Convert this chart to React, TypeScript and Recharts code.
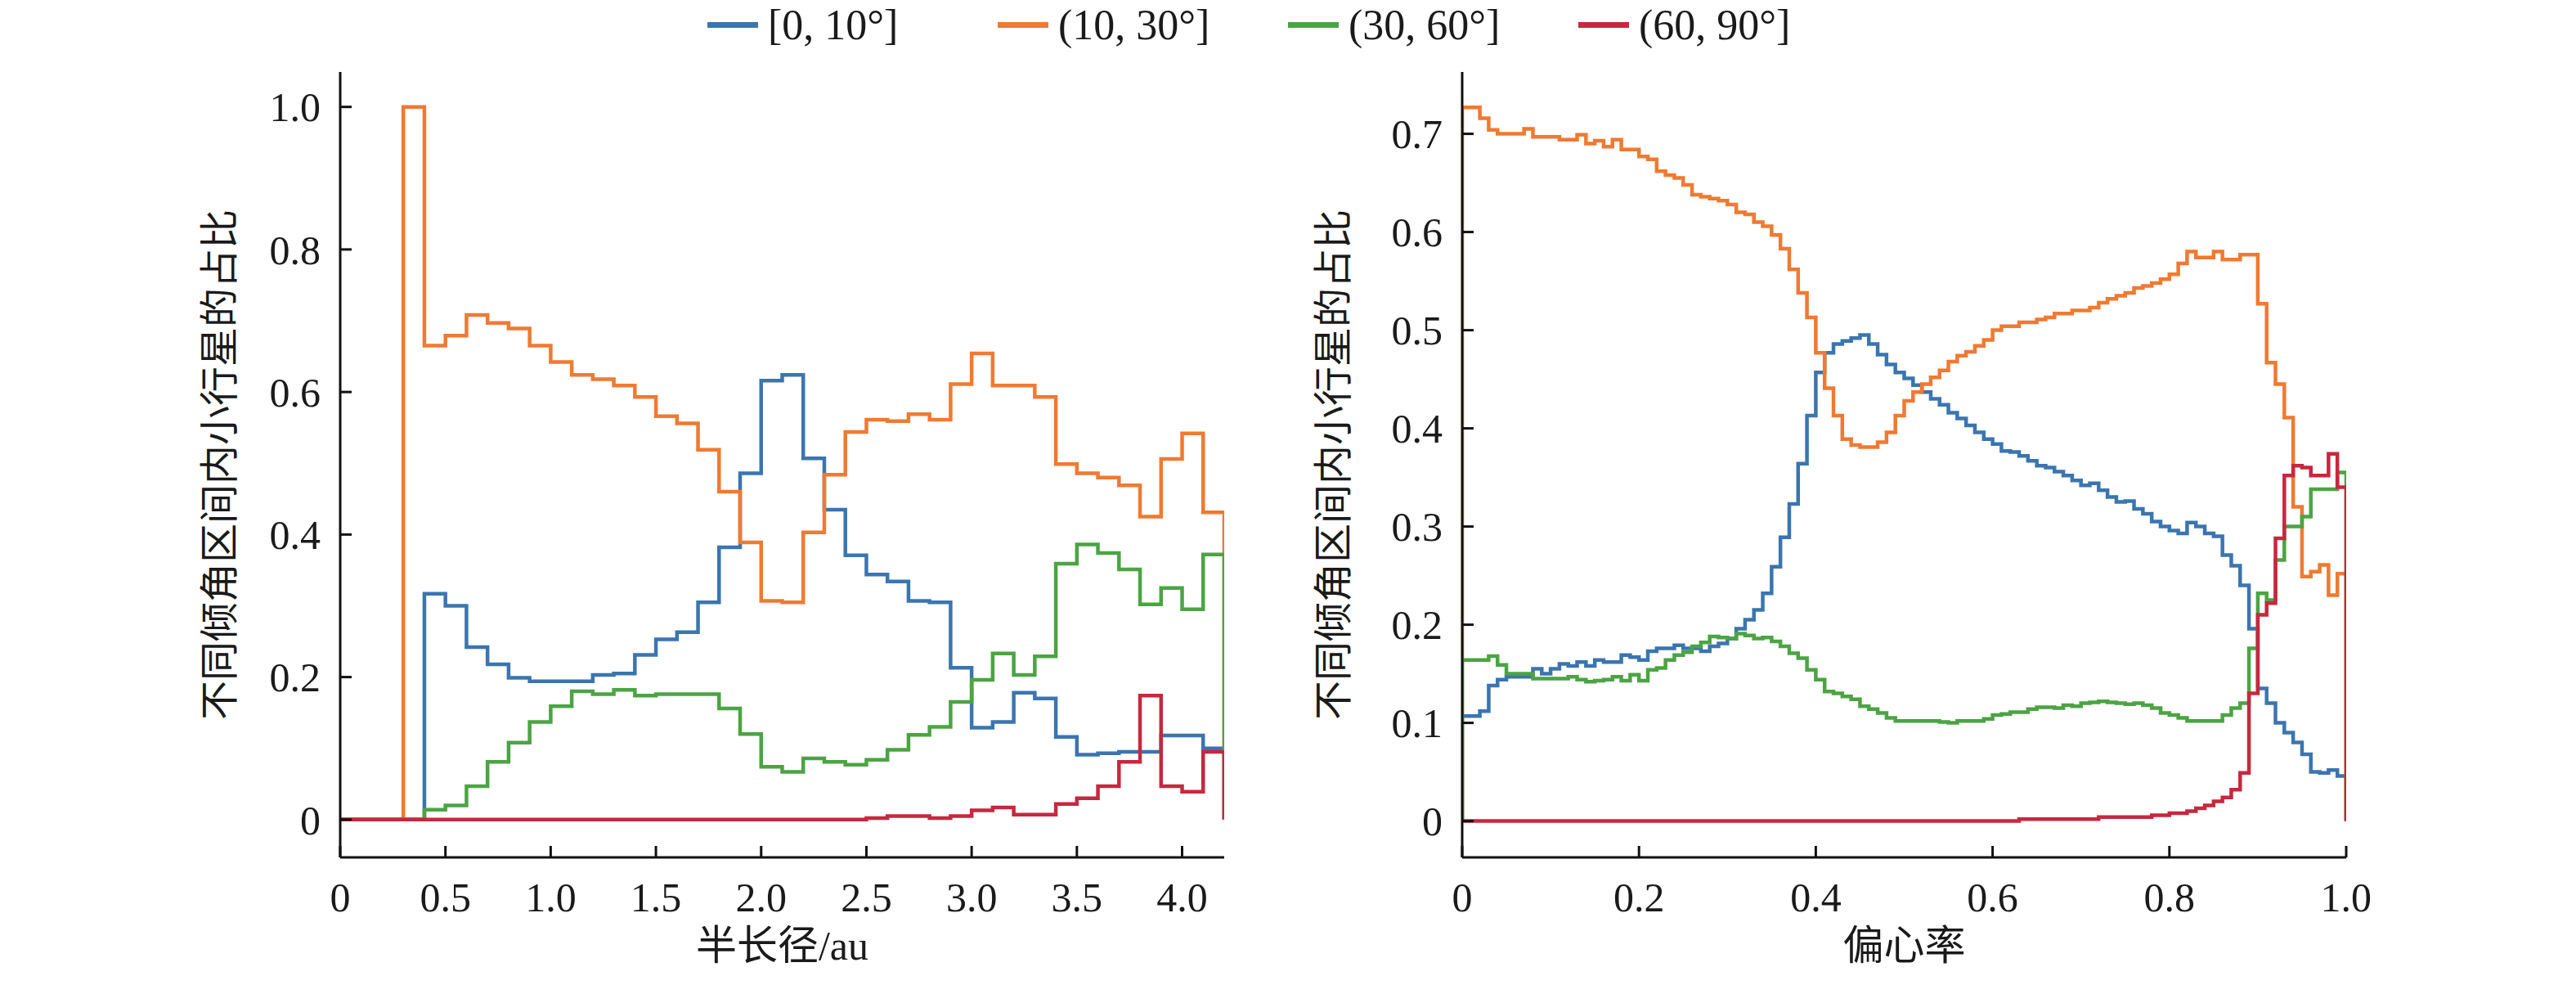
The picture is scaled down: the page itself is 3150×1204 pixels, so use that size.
import React from 'react';
import { LineChart, Line, XAxis, YAxis, Label } from 'recharts';

const seriesNames = ['[0, 10°]', '(10, 30°]', '(30, 60°]', '(60, 90°]'];
const colors = ['#3b75af', '#ef7a32', '#4ba443', '#c6283f'];

// Left: semi-major axis bins, 0.1 au wide, starting at 0.3 au, ending at 4.2
const aStart = 0.3;
const aBin = 0.1;
const aEnd = 4.2;
const aBlue = [0, 0.317, 0.3, 0.242, 0.218, 0.199, 0.194, 0.194, 0.194, 0.203, 0.205, 0.231, 0.253, 0.263, 0.305, 0.382, 0.486, 0.616, 0.624, 0.507, 0.435, 0.371, 0.344, 0.334, 0.307, 0.305, 0.213, 0.129, 0.137, 0.178, 0.17, 0.116, 0.091, 0.093, 0.095, 0.095, 0.118, 0.118, 0.1];
const aOrange = [1.0, 0.665, 0.679, 0.708, 0.697, 0.689, 0.665, 0.642, 0.624, 0.618, 0.609, 0.593, 0.566, 0.556, 0.519, 0.46, 0.389, 0.307, 0.305, 0.403, 0.484, 0.544, 0.561, 0.559, 0.569, 0.561, 0.611, 0.654, 0.609, 0.609, 0.593, 0.499, 0.486, 0.48, 0.469, 0.425, 0.506, 0.542, 0.431];
const aGreen = [0, 0.014, 0.02, 0.047, 0.081, 0.108, 0.137, 0.159, 0.18, 0.176, 0.182, 0.174, 0.176, 0.176, 0.176, 0.156, 0.12, 0.074, 0.067, 0.086, 0.081, 0.077, 0.084, 0.098, 0.119, 0.13, 0.165, 0.196, 0.233, 0.203, 0.229, 0.359, 0.386, 0.374, 0.351, 0.302, 0.325, 0.295, 0.372];
const aRed = [0, 0, 0, 0, 0, 0, 0, 0, 0, 0, 0, 0, 0, 0, 0, 0, 0, 0, 0, 0, 0, 0, 0.002, 0.005, 0.005, 0.002, 0.005, 0.013, 0.017, 0.007, 0.007, 0.022, 0.03, 0.047, 0.081, 0.174, 0.047, 0.039, 0.095];

// Right: eccentricity bins, 0.01 wide, from 0 to 1
const eStart = 0;
const eBin = 0.01;
const eEnd = 1.0;
const eBlue = [0.107, 0.107, 0.112, 0.138, 0.144, 0.147, 0.147, 0.147, 0.155, 0.15, 0.155, 0.16, 0.158, 0.162, 0.158, 0.164, 0.162, 0.162, 0.169, 0.167, 0.164, 0.173, 0.176, 0.176, 0.179, 0.176, 0.176, 0.173, 0.178, 0.181, 0.186, 0.196, 0.205, 0.215, 0.232, 0.259, 0.289, 0.323, 0.364, 0.413, 0.457, 0.477, 0.486, 0.489, 0.492, 0.495, 0.486, 0.475, 0.465, 0.457, 0.451, 0.444, 0.437, 0.43, 0.424, 0.416, 0.41, 0.403, 0.396, 0.389, 0.384, 0.377, 0.376, 0.372, 0.367, 0.362, 0.36, 0.356, 0.352, 0.347, 0.342, 0.344, 0.337, 0.33, 0.325, 0.326, 0.318, 0.313, 0.305, 0.3, 0.296, 0.293, 0.304, 0.3, 0.293, 0.29, 0.271, 0.26, 0.24, 0.196, 0.135, 0.12, 0.1, 0.09, 0.08, 0.068, 0.05, 0.049, 0.052, 0.046];
const eOrange = [0.727, 0.727, 0.716, 0.704, 0.7, 0.7, 0.7, 0.705, 0.697, 0.697, 0.697, 0.694, 0.694, 0.699, 0.69, 0.693, 0.687, 0.694, 0.684, 0.684, 0.677, 0.674, 0.662, 0.658, 0.655, 0.648, 0.638, 0.636, 0.634, 0.632, 0.628, 0.62, 0.618, 0.61, 0.606, 0.597, 0.583, 0.562, 0.538, 0.513, 0.477, 0.441, 0.413, 0.389, 0.383, 0.381, 0.381, 0.386, 0.396, 0.413, 0.428, 0.437, 0.445, 0.452, 0.459, 0.468, 0.474, 0.478, 0.484, 0.49, 0.5, 0.504, 0.504, 0.508, 0.508, 0.511, 0.513, 0.517, 0.517, 0.52, 0.52, 0.523, 0.528, 0.532, 0.535, 0.538, 0.543, 0.545, 0.548, 0.552, 0.557, 0.568, 0.58, 0.574, 0.574, 0.58, 0.572, 0.572, 0.577, 0.577, 0.527, 0.467, 0.445, 0.411, 0.32, 0.249, 0.254, 0.261, 0.23, 0.252];
const eGreen = [0.164, 0.164, 0.164, 0.168, 0.159, 0.15, 0.15, 0.15, 0.145, 0.145, 0.145, 0.145, 0.147, 0.144, 0.142, 0.143, 0.144, 0.147, 0.143, 0.149, 0.143, 0.154, 0.156, 0.164, 0.169, 0.172, 0.178, 0.182, 0.188, 0.187, 0.186, 0.191, 0.189, 0.186, 0.187, 0.183, 0.178, 0.171, 0.166, 0.154, 0.144, 0.132, 0.13, 0.127, 0.124, 0.117, 0.114, 0.11, 0.105, 0.102, 0.102, 0.102, 0.102, 0.102, 0.101, 0.1, 0.102, 0.102, 0.102, 0.104, 0.108, 0.109, 0.111, 0.111, 0.114, 0.116, 0.116, 0.115, 0.118, 0.117, 0.12, 0.121, 0.122, 0.121, 0.12, 0.119, 0.12, 0.118, 0.115, 0.11, 0.108, 0.105, 0.102, 0.102, 0.102, 0.102, 0.108, 0.115, 0.12, 0.176, 0.232, 0.225, 0.266, 0.3, 0.3, 0.31, 0.338, 0.338, 0.338, 0.355];
const eRed = [0, 0, 0, 0, 0, 0, 0, 0, 0, 0, 0, 0, 0, 0, 0, 0, 0, 0, 0, 0, 0, 0, 0, 0, 0, 0, 0, 0, 0, 0, 0, 0, 0, 0, 0, 0, 0, 0, 0, 0, 0, 0, 0, 0, 0, 0, 0, 0, 0, 0, 0, 0, 0, 0, 0, 0, 0, 0, 0, 0, 0, 0, 0, 0.002, 0.002, 0.002, 0.002, 0.002, 0.002, 0.002, 0.002, 0.002, 0.004, 0.004, 0.004, 0.004, 0.004, 0.004, 0.006, 0.006, 0.008, 0.008, 0.01, 0.013, 0.016, 0.02, 0.024, 0.032, 0.049, 0.13, 0.21, 0.222, 0.288, 0.352, 0.362, 0.36, 0.352, 0.352, 0.374, 0.34];

const aTicks = [0, 0.5, 1.0, 1.5, 2.0, 2.5, 3.0, 3.5, 4.0];
const aYTicks = [0, 0.2, 0.4, 0.6, 0.8, 1.0];
const eTicks = [0, 0.2, 0.4, 0.6, 0.8, 1.0];
const eYTicks = [0, 0.1, 0.2, 0.3, 0.4, 0.5, 0.6, 0.7];

function toSteps(values: number[], start: number, bin: number, end: number) {
  const pts: { x: number; y: number }[] = [{ x: 0, y: 0 }, { x: start, y: 0 }];
  values.forEach((v, i) => pts.push({ x: +(start + i * bin).toFixed(4), y: v }));
  pts.push({ x: end, y: values[values.length - 1] });
  pts.push({ x: end, y: 0 });
  return pts;
}

const leftSeries = [aBlue, aOrange, aGreen, aRed].map((v) => toSteps(v, aStart, aBin, aEnd));
const rightSeries = [eBlue, eOrange, eGreen, eRed].map((v) => toSteps(v, eStart, eBin, eEnd));

const FONT = '"Liberation Serif", "Noto Sans CJK SC", serif';
const tickStyle = { fontFamily: FONT, fontSize: 50, fill: '#1a1a1a' };

const fmt0 = (v: number) => (v === 0 ? '0' : v.toFixed(1));
const fmtE = (v: number) => (v === 0 ? '0' : v === 1 ? '1.0' : String(v));

function Panel(props: {
  series: { x: number; y: number }[][];
  xDomain: [number, number];
  yDomain: [number, number];
  xTicks: number[];
  yTicks: number[];
  xFmt: (v: number) => string;
  yFmt: (v: number) => string;
  xLabel: string;
  yAxisWidth: number;
  yLabelX: number;
  width: number;
}) {
  const { series, xDomain, yDomain, xTicks, yTicks, xFmt, yFmt, xLabel, yAxisWidth, yLabelX, width } = props;
  return (
    <LineChart width={width} height={1204} margin={{ top: 88, right: 31, bottom: 0, left: 0 }}>
      <XAxis
        type="number"
        dataKey="x"
        domain={xDomain}
        ticks={xTicks}
        tickFormatter={xFmt}
        allowDataOverflow
        height={156}
        stroke="#111"
        strokeWidth={3}
        tickSize={-14}
        tickMargin={44}
        tick={tickStyle}
      >
        <Label
          content={(p: any) => {
            const vb = p.viewBox || {};
            return (
              <text x={vb.x + vb.width / 2} y={1162} textAnchor="middle" dominantBaseline="middle" style={{ fontFamily: FONT, fontSize: 50, fill: '#1a1a1a' }}>
                {xLabel}
              </text>
            );
          }}
        />
      </XAxis>
      <YAxis
        type="number"
        domain={yDomain}
        ticks={yTicks}
        tickFormatter={yFmt}
        allowDataOverflow
        width={yAxisWidth}
        stroke="#111"
        strokeWidth={3}
        tickSize={-14}
        tickMargin={38}
        tick={tickStyle}
      >
        <Label
          content={(p: any) => {
            const vb = p.viewBox || {};
            const cy = vb.y + vb.height / 2;
            return (
              <text x={yLabelX} y={cy} textAnchor="middle" dominantBaseline="middle" transform={`rotate(-90, ${yLabelX}, ${cy})`} style={{ fontFamily: FONT, fontSize: 48, fill: '#1a1a1a' }}>
                不同倾角区间内小行星的占比
              </text>
            );
          }}
        />
      </YAxis>
      {series.map((d, i) => (
        <Line
          key={i}
          data={d}
          dataKey="y"
          type="stepAfter"
          stroke={colors[i]}
          strokeWidth={4.5}
          dot={false}
          activeDot={false}
          isAnimationActive={false}
        />
      ))}
    </LineChart>
  );
}

export default function App() {
  return (
    <div style={{ position: 'absolute', left: 0, top: 0, width: 3150, height: 1204, background: '#fff' }}>
      <div style={{ position: 'absolute', left: 0, top: 0, width: 3150, height: 60, display: 'flex', justifyContent: 'center', alignItems: 'center', gap: 0 }}>
        {seriesNames.map((n, i) => (
          <div key={n} style={{ display: 'flex', alignItems: 'center', width: 355, fontFamily: FONT, fontSize: 52, color: '#1a1a1a' }}>
            <div style={{ width: 62, height: 7, background: colors[i], marginRight: 12 }} />
            <span>{n}</span>
          </div>
        ))}
      </div>
      <div style={{ position: 'absolute', left: 0, top: 0 }}>
        <Panel series={leftSeries} xDomain={[0, 4.2]} yDomain={[-0.053, 1.049]} xTicks={aTicks} yTicks={aYTicks} xFmt={fmt0} yFmt={fmt0} xLabel="半长径/au" yAxisWidth={416} yLabelX={274} width={1528} />
      </div>
      <div style={{ position: 'absolute', left: 1500, top: 0 }}>
        <Panel series={rightSeries} xDomain={[0, 1]} yDomain={[-0.037, 0.763]} xTicks={eTicks} yTicks={eYTicks} xFmt={fmtE} yFmt={fmt0} xLabel="偏心率" yAxisWidth={288} yLabelX={136} width={1400} />
      </div>
    </div>
  );
}
